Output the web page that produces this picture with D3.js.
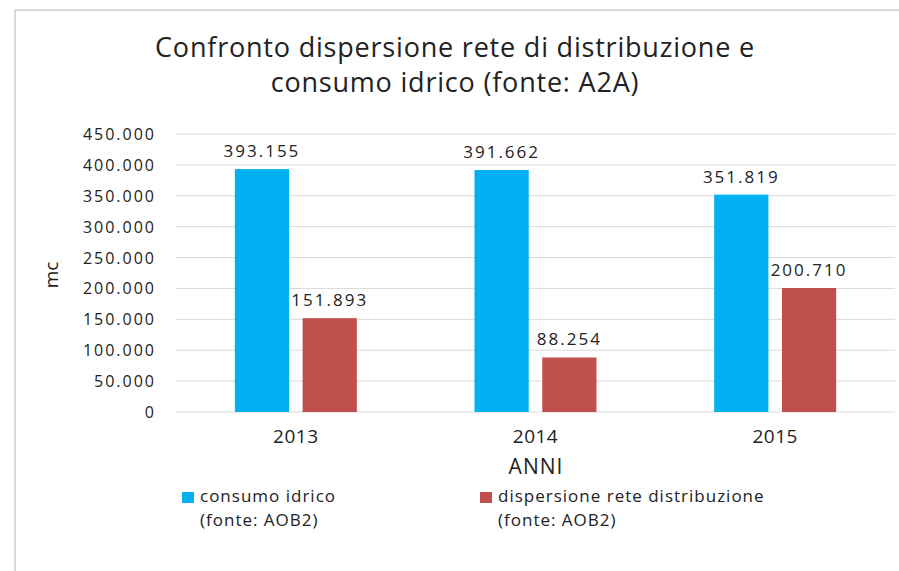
<!DOCTYPE html>
<html>
<head>
<meta charset="utf-8">
<script src="https://cdn.jsdelivr.net/npm/d3@7"></script>
<style>
  body { margin: 0; background: #fff; }
  text { font-family: "Open Sans", "DejaVu Sans", sans-serif; fill: #222; }
</style>
</head>
<body>
<svg id="chart" width="899" height="571"></svg>
<script>
// data
const years = ["2013", "2014", "2015"];
const consumo = [393155, 391662, 351819];
const dispersione = [151893, 88254, 200710];
const seriesNames = [
  ["consumo idrico", "(fonte: AOB2)"],
  ["dispersione rete distribuzione", "(fonte: AOB2)"]
];
const colors = ["#00b0f0", "#c0504d"];
const yTicks = [0, 50000, 100000, 150000, 200000, 250000, 300000, 350000, 400000, 450000];

const svg = d3.select("#chart");
const it = d3.formatLocale({ decimal: ",", thousands: ".", grouping: [3], currency: ["", "€"] });
const fmt = it.format(",d");

// frame
svg.append("path")
  .attr("d", "M15,571 L15,10 L899,10")
  .attr("fill", "none")
  .attr("stroke", "#d9d9d9")
  .attr("stroke-width", 2);

const plot = { left: 176, right: 895, top: 134, bottom: 412 };

const x = d3.scaleBand().domain(years).range([plot.left, plot.right]);
const x1 = d3.scaleBand().domain([0, 1]).range([0, 122]).paddingInner(0.2);
const y = d3.scaleLinear().domain([0, 450000]).range([plot.bottom, plot.top]);

// gridlines
svg.append("g")
  .selectAll("line")
  .data(yTicks)
  .join("line")
  .attr("x1", plot.left).attr("x2", plot.right)
  .attr("y1", d => y(d)).attr("y2", d => y(d))
  .attr("stroke", "#d9d9d9")
  .attr("stroke-width", 1);

// y axis labels (the original font is wide)
svg.append("g")
  .selectAll("text")
  .data(yTicks)
  .join("text")
  .attr("x", 156)
  .attr("y", d => y(d) + 6)
  .attr("text-anchor", "end")
  .attr("font-size", 16)
  .attr("letter-spacing", 2)
  .attr("fill", "#333")
  .text(d => fmt(d));

svg.append("text")
  .attr("transform", "translate(58,275) rotate(-90)")
  .attr("text-anchor", "middle")
  .attr("font-size", 19)
  .text("mc");

// bars
const rows = years.map((yr, i) => ({ yr, vals: [consumo[i], dispersione[i]] }));
const groups = svg.append("g")
  .selectAll("g")
  .data(rows)
  .join("g")
  .attr("transform", d => `translate(${x(d.yr) + (x.bandwidth() - 122) / 2},0)`);

groups.selectAll("rect")
  .data(d => d.vals.map((v, k) => ({ v, k })))
  .join("rect")
  .attr("x", d => x1(d.k))
  .attr("width", x1.bandwidth())
  .attr("y", d => y(d.v))
  .attr("height", d => y(0) - y(d.v))
  .attr("fill", d => colors[d.k]);

groups.selectAll("text.val")
  .data(d => d.vals.map((v, k) => ({ v, k })))
  .join("text")
  .attr("class", "val")
  .attr("x", d => x1(d.k) + x1.bandwidth() / 2)
  .attr("y", d => y(d.v) - 12)
  .attr("text-anchor", "middle")
  .attr("font-size", 17)
  .attr("letter-spacing", 2)
  .attr("fill", "#333")
  .text(d => fmt(d.v));

// x axis labels
svg.append("g")
  .selectAll("text")
  .data(years)
  .join("text")
  .attr("x", d => x(d) + x.bandwidth() / 2)
  .attr("y", 443)
  .attr("text-anchor", "middle")
  .attr("font-size", 19)
  .attr("letter-spacing", 0.5)
  .attr("fill", "#333")
  .text(d => d);

svg.append("text")
  .attr("x", 536)
  .attr("y", 474)
  .attr("text-anchor", "middle")
  .attr("font-size", 21)
  .attr("letter-spacing", 1)
  .text("ANNI");

// title
const title = svg.append("text")
  .attr("text-anchor", "middle")
  .attr("font-size", 27)
  .attr("letter-spacing", 0.8)
  .attr("fill", "#111");
title.append("tspan").attr("x", 455).attr("y", 57).text("Confronto dispersione rete di distribuzione e");
title.append("tspan").attr("x", 455).attr("y", 92).text("consumo idrico (fonte: A2A)");

// legend
const legX = [182, 480];
const leg = svg.append("g")
  .selectAll("g")
  .data(seriesNames)
  .join("g")
  .attr("transform", (d, i) => `translate(${legX[i]},0)`);

leg.append("rect")
  .attr("x", 0).attr("y", 492)
  .attr("width", 12).attr("height", 11)
  .attr("fill", (d, i) => colors[i]);

leg.append("text")
  .attr("font-size", 17)
  .attr("letter-spacing", 1)
  .attr("fill", "#222")
  .selectAll("tspan")
  .data(d => d)
  .join("tspan")
  .attr("x", 18)
  .attr("y", (d, j) => 502 + j * 24)
  .text(d => d);
</script>
</body>
</html>
